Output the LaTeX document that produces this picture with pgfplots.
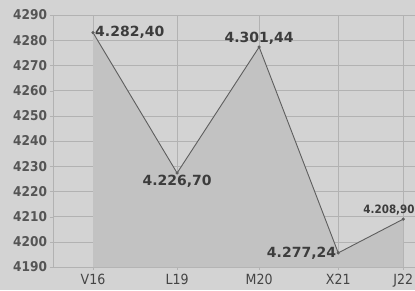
\documentclass[border=0pt]{standalone}
\usepackage{fontspec}
\setmainfont{DejaVu Sans}
\newfontfamily\condfont{DejaVu Sans Condensed}
\usepackage{pgfplots}
\pgfplotsset{compat=1.18}
\usetikzlibrary{backgrounds}
\definecolor{bgcol}{HTML}{D3D3D3}
\definecolor{fillcol}{HTML}{C2C2C2}
\definecolor{gridcol}{HTML}{B2B2B2}
\definecolor{linecol}{HTML}{5E5E5E}
\definecolor{txtcol}{HTML}{3C3C3C}
\definecolor{ticktxt}{HTML}{555555}
\begin{document}
\begin{tikzpicture}
\begin{axis}[
  scale only axis,
  width=362pt, height=252pt,
  xmin=-0.476, xmax=3.83,
  ymin=4190, ymax=4290,
  ytick={4190,4200,...,4290},
  xtick={0,1,1.976,2.917,3.69},
  xticklabels={V16,L19,M20,X21,J22},
  axis lines=left,
  axis line style={draw=gridcol,-},
  grid=major,
  major grid style={draw=gridcol, line width=0.6pt},
  major tick length=3pt,
  tick style={draw=gridcol},
  tick align=outside,
  /pgf/number format/assume math mode=true,
  /pgf/number format/1000 sep={},
  yticklabel style={font=\condfont\fontsize{13.5}{16}\selectfont\bfseries, text=ticktxt, xshift=0.5pt},
  xticklabel style={font=\condfont\fontsize{14}{16}\selectfont, text=ticktxt!80!black, yshift=-1pt},
  clip=false,
]
\addplot[fill=fillcol, draw=none] table {
x y
0 4283
1 4227.3
1.976 4277.3
2.917 4195.6
3.69 4209
} \closedcycle;
\addplot[draw=linecol, line width=0.9pt, mark=*, mark size=1.1pt, mark options={fill=linecol, draw=linecol}] table {
x y
0 4283
1 4227.3
1.976 4277.3
2.917 4195.6
3.69 4209
};
\addplot[draw=none, mark=none,
  nodes near coords,
  point meta=explicit symbolic,
  visualization depends on={value \thisrow{anc}\as\myanc},
  nodes near coords style={anchor=\myanc, inner sep=2pt, text=txtcol, font=\fontsize{14}{16}\selectfont\bfseries},
] table[meta=label] {
x y label anc
0 4283 4.282,40 west
1 4227.3 4.226,70 north
1.976 4277.3 4.301,44 south
2.917 4195.6 4.277,24 east
};
\addplot[draw=none, mark=none,
  nodes near coords,
  point meta=explicit symbolic,
  nodes near coords style={anchor=south east, xshift=12pt, yshift=3pt, inner sep=0.5pt, text=txtcol, font=\condfont\fontsize{11.5}{13}\selectfont\bfseries},
] table[meta=label] {
x y label
3.69 4209 4.208,90
};
\end{axis}
\pgfresetboundingbox
\path ([xshift=-53pt,yshift=-23pt]current axis.south west) rectangle ([yshift=15pt]current axis.north east);
\begin{scope}[on background layer]
\fill[bgcol] ([xshift=-53pt,yshift=-23pt]current axis.south west) rectangle ([yshift=15pt]current axis.north east);
\end{scope}
\end{tikzpicture}
\end{document}
